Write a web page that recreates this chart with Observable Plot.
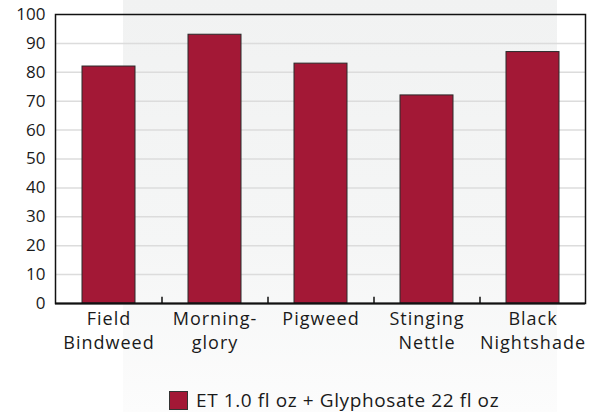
<!DOCTYPE html>
<html>
<head>
<meta charset="utf-8">
<script src="https://cdn.jsdelivr.net/npm/d3@7"></script>
<script src="https://cdn.jsdelivr.net/npm/@observablehq/plot@0.6"></script>
<style>
  html, body { margin: 0; padding: 0; background: #fff; }
  #wrap { position: relative; width: 599px; height: 412px; overflow: hidden; font-family: "Open Sans", sans-serif; }
  #band { position: absolute; left: 123px; top: 0; width: 434px; height: 412px;
          background: linear-gradient(to bottom, #f1f2f2 0%, #f5f6f6 60%, #fcfcfc 100%); }
  #chart { position: absolute; left: 0; top: 0; }
  #chart g[aria-label="x-axis tick label"] text { letter-spacing: 1px; }
  #legend { position: absolute; left: 169px; top: 390px; height: 20px; display: flex; align-items: center;
            font-size: 19px; line-height: 20px; letter-spacing: 0.6px; color: #1a1a1a; white-space: nowrap; }
  #legend .sw { width: 17px; height: 17px; background: #a31836; border: 1px solid #333; margin-right: 8px; }
</style>
</head>
<body>
<div id="wrap">
  <div id="band"></div>
  <div id="chart"></div>
  <div id="legend"><span class="sw"></span><span id="legendText"></span></div>
</div>
<script>
const categories = ["Field Bindweed", "Morning-glory", "Pigweed", "Stinging Nettle", "Black Nightshade"];
const categoryLabels = ["Field\nBindweed", "Morning-\nglory", "Pigweed", "Stinging\nNettle", "Black\nNightshade"];
const control = [82, 93, 83, 72, 87];
const seriesName = "ET 1.0 fl oz + Glyphosate 22 fl oz";
const yTicks = [0, 10, 20, 30, 40, 50, 60, 70, 80, 90, 100];
const gridTicks = [10, 20, 30, 40, 50, 60, 70, 80, 90];

const data = categories.map((c, i) => ({category: c, value: control[i]}));
const labelOf = new Map(categories.map((c, i) => [c, categoryLabels[i]]));

const W = 599, H = 360, ML = 55, MR = 14, MT = 14, MB = 57;
const step = (W - ML - MR) / categories.length;

const chart = Plot.plot({
  width: W,
  height: H,
  marginLeft: ML,
  marginRight: MR,
  marginTop: MT,
  marginBottom: MB,
  style: {background: "transparent", fontFamily: "Open Sans, sans-serif", color: "#1a1a1a"},
  x: {domain: categories, paddingInner: 0.5, paddingOuter: 0.25},
  y: {domain: [0, 100]},
  marks: [
    Plot.gridY(gridTicks, {stroke: "#dcdcdc", strokeOpacity: 1, strokeWidth: 1.5}),
    Plot.barY(data, {x: "category", y: "value", fill: "#a31836", stroke: "#2a2a2a", strokeWidth: 1}),
    Plot.ruleX(categories.slice(1), {x: d => d, y1: 0, y2: 2.2, dx: -step / 2, stroke: "#111", strokeWidth: 1.5}),
    Plot.frame({stroke: "#111", strokeWidth: 1.5}),
    Plot.ruleY([0], {stroke: "#111", strokeWidth: 2}),
    Plot.axisY(yTicks, {tickSize: 0, tickPadding: 10, fontSize: 17, label: null, tickFormat: d => String(d)}),
    Plot.axisX({tickSize: 0, tickPadding: 4, fontSize: 18, label: null, lineHeight: 1.35,
                tickFormat: d => labelOf.get(d)})
  ]
});
document.getElementById("chart").appendChild(chart);
document.getElementById("legendText").textContent = seriesName;
</script>
</body>
</html>
